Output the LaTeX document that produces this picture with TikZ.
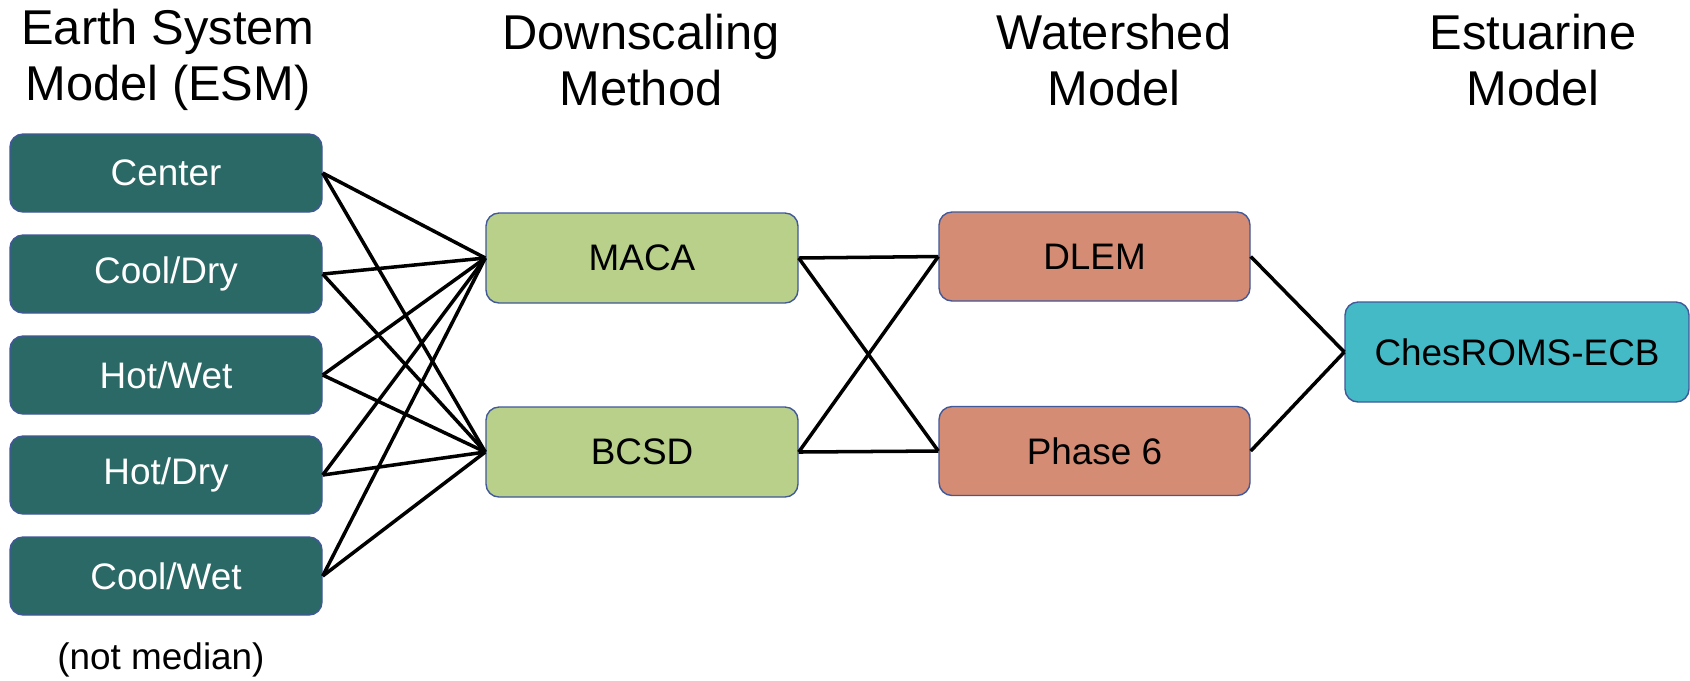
\documentclass[tikz,border=0pt]{standalone}
\usepackage{fontspec}
\setmainfont{Liberation Sans}
\usetikzlibrary{positioning}
\definecolor{esmteal}{HTML}{2A6965}
\definecolor{dsgreen}{HTML}{B8D08A}
\definecolor{wssalmon}{HTML}{D48C74}
\definecolor{estcyan}{HTML}{44BAC6}
\definecolor{boxline}{HTML}{41589A}
\tikzset{
  box/.style={
    draw=boxline, rectangle, rounded corners=1.3mm, line width=0.4pt,
    minimum height=7.8mm, minimum width=31.2mm, inner sep=0mm,
    font=\fontsize{10.5}{12}\selectfont
  },
  esmbox/.style={box, fill=esmteal, text=white},
  dsbox/.style={box, fill=dsgreen, minimum height=9mm},
  wsbox/.style={box, fill=wssalmon, minimum height=8.9mm, minimum width=31.1mm},
  estbox/.style={box, fill=estcyan, minimum height=10mm, minimum width=34.4mm},
  head/.style={align=center, inner sep=0mm, font=\fontsize{13.9}{15.9}\selectfont},
  link/.style={line width=1pt, black}
}
\begin{document}
\begin{tikzpicture}
  \useasboundingbox (0,0) rectangle (16.9,-6.8);

  % column headings
  \node[head] (hesm) at (1.68, -0.60) {Earth System\\Model (ESM)};
  \node[head] (hds) at (6.41, -0.60) {Downscaling\\Method};
  \node[head] (hws) at (11.14, -0.60) {Watershed\\Model};
  \node[head] (hest) at (15.33, -0.60) {Estuarine\\Model};

  % earth system models
  \node[esmbox] (center) at (1.66, -1.73) {Center};
  \node[esmbox] (cooldry) at (1.66, -2.74) {Cool/Dry};
  \node[esmbox] (hotwet) at (1.66, -3.75) {Hot/Wet};
  \node[esmbox] (hotdry) at (1.66, -4.75) {Hot/Dry};
  \node[esmbox] (coolwet) at (1.66, -5.76) {Cool/Wet};
  \node[head, font=\fontsize{10.5}{12}\selectfont] (notmed) at (1.61, -6.60) {(not median)};

  % downscaling, watershed, estuary
  \node[dsbox] (maca) at (6.42, -2.58) {MACA};
  \node[dsbox] (bcsd) at (6.42, -4.52) {BCSD};
  \node[wsbox] (dlem) at (10.945, -2.565) {DLEM};
  \node[wsbox] (phase) at (10.945, -4.51) {Phase 6};
  \node[estbox] (chesroms) at (15.17, -3.52) {ChesROMS-ECB};

  % connectors
  \foreach \e in {center, cooldry, hotwet, hotdry, coolwet} {
    \draw[link] (\e.east) -- (maca.west);
    \draw[link] (\e.east) -- (bcsd.west);
  }
  \foreach \d in {maca, bcsd} {
    \draw[link] (\d.east) -- (dlem.west);
    \draw[link] (\d.east) -- (phase.west);
  }
  \draw[link] (dlem.east) -- (chesroms.west);
  \draw[link] (phase.east) -- (chesroms.west);
\end{tikzpicture}
\end{document}
